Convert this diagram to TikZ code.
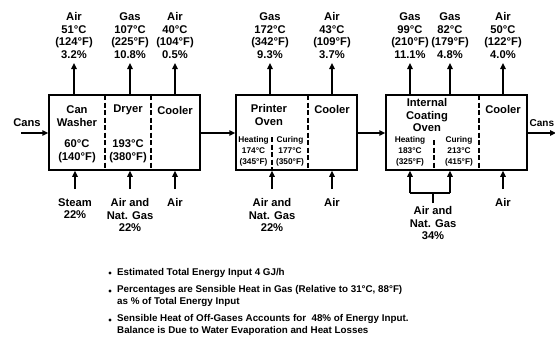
\documentclass[tikz,border=0pt]{standalone}
\usepackage{fontspec}
\setmainfont{Liberation Sans}
\usetikzlibrary{arrows.meta}
\begin{document}
\begin{tikzpicture}[x=1pt,y=-1pt,
  lbl/.style={font=\fontsize{11.2}{12.8}\selectfont\bfseries, align=center, inner sep=1pt},
  small/.style={font=\fontsize{8.3}{10.8}\selectfont\bfseries, align=center, inner sep=0pt},
  box/.style={draw, line width=1.5pt, minimum height=75pt, inner sep=0pt},
  arr/.style={line width=1.6pt, -{Triangle[length=6pt,width=5.5pt]}},
  div/.style={line width=1.2pt, dash pattern=on 5pt off 2.5pt},
  note/.style={font=\fontsize{9.8}{12}\selectfont\bfseries, align=left, anchor=west, inner sep=0pt},
  dot/.style={circle, fill, inner sep=0pt, minimum size=3.4pt}]
\useasboundingbox (0,0) rectangle (555,340);

% boxes
\node[box, minimum width=151pt] (b1) at (124.5,132.5) {};
\node[box, minimum width=121pt] (b2) at (296.5,132.5) {};
\node[box, minimum width=141pt] (b3) at (456.5,132.5) {};

% dividers
\draw[div] (105,95) -- (105,170);
\draw[div] (151,95) -- (151,170);
\draw[div] (308,95) -- (308,170);
\draw[div] (272,137) -- (272,170);
\draw[div] (479,95) -- (479,170);
\draw[div] (434,140) -- (434,170);

% inside texts
\node[lbl] (cw) at (77,116) {Can\\Washer};
\node[lbl] (cwt) at (77,151) {60°C\\(140°F)};
\node[lbl] (dr) at (128,110) {Dryer};
\node[lbl] (drt) at (128,151) {193°C\\(380°F)};
\node[lbl] (c1) at (175,110) {Cooler};
\node[lbl] (po) at (269,115) {Printer\\Oven};
\node[lbl] (c2) at (332,109) {Cooler};
\node[small] (h2) at (253.5,151.5) {Heating\\174°C\\(345°F)};
\node[small] (k2) at (290,151.5) {Curing\\177°C\\(350°F)};
\node[lbl] (ico) at (427,115) {Internal\\Coating\\Oven};
\node[lbl] (c3) at (503,109) {Cooler};
\node[small] (h3) at (410,151.5) {Heating\\183°C\\(325°F)};
\node[small] (k3) at (459,151.5) {Curing\\213°C\\(415°F)};

% top outputs
\node[lbl, anchor=south] (o1) at (74,60) {Air\\51°C\\(124°F)\\3.2\%};
\node[lbl, anchor=south] (o2) at (130,60) {Gas\\107°C\\(225°F)\\10.8\%};
\node[lbl, anchor=south] (o3) at (175,60) {Air\\40°C\\(104°F)\\0.5\%};
\node[lbl, anchor=south] (o4) at (270,60) {Gas\\172°C\\(342°F)\\9.3\%};
\node[lbl, anchor=south] (o5) at (332,60) {Air\\43°C\\(109°F)\\3.7\%};
\node[lbl, anchor=south] (o6) at (410,60) {Gas\\99°C\\(210°F)\\11.1\%};
\node[lbl, anchor=south] (o7) at (450,60) {Gas\\82°C\\(179°F)\\4.8\%};
\node[lbl, anchor=south] (o8) at (503,60) {Air\\50°C\\(122°F)\\4.0\%};
\foreach \o in {o1,o2,o3}{\draw[arr] (b1.north -| \o.south) -- ([yshift=-3pt]\o.south);}
\foreach \o in {o4,o5}{\draw[arr] (b2.north -| \o.south) -- ([yshift=-3pt]\o.south);}
\foreach \o in {o6,o7,o8}{\draw[arr] (b3.north -| \o.south) -- ([yshift=-3pt]\o.south);}

% bottom inputs
\node[lbl, anchor=north] (i1) at (75,197) {Steam\\22\%};
\node[lbl, anchor=north] (i2) at (130,197) {Air and\\Nat. Gas\\22\%};
\node[lbl, anchor=north] (i3) at (175,197) {Air};
\node[lbl, anchor=north] (i4) at (272,197) {Air and\\Nat. Gas\\22\%};
\node[lbl, anchor=north] (i5) at (332,197) {Air};
\node[lbl, anchor=north] (i6) at (503,197) {Air};
\node[lbl, anchor=north] (i7) at (433,205) {Air and\\Nat. Gas\\34\%};
\foreach \i in {i1,i2,i3}{\draw[arr] ([yshift=8pt]\i.north) -- (b1.south -| \i.north);}
\foreach \i in {i4,i5}{\draw[arr] ([yshift=8pt]\i.north) -- (b2.south -| \i.north);}
\draw[arr] ([yshift=8pt]i6.north) -- (b3.south -| i6.north);
\coordinate (bl) at (410,193);
\coordinate (br) at (450,193);
\draw[line width=1.6pt] ([yshift=2pt]i7.north) -- (i7.north |- bl);
\draw[line width=1.6pt] (bl) -- (br);
\draw[arr] (bl) -- (b3.south -| bl);
\draw[arr] (br) -- (b3.south -| br);

% cans flow
\node[lbl] (cin) at (27,123) {Cans};
\coordinate (cs) at (21,133);
\draw[arr] (cs) -- (cs -| b1.west);
\draw[arr] (b1.east |- 0,133) -- (b2.west |- 0,133);
\draw[arr] (b2.east |- 0,133) -- (b3.west |- 0,133);
\coordinate (ce) at (556,133);
\draw[arr] (b3.east |- ce) -- (ce);
\node[lbl, anchor=west, font=\fontsize{10}{12}\selectfont\bfseries, inner sep=0pt] (cout) at (529.5,123) {Cans};

% notes
\node[dot] (d1) at (110,273) {};
\node[dot] (d2) at (110,291) {};
\node[dot] (d3) at (110,320) {};
\node[note] (n1) at (117,273) {Estimated Total Energy Input 4 GJ/h};
\node[note, anchor=north west] (n2) at (117,285) {Percentages are Sensible Heat in Gas (Relative to 31°C, 88°F)\\as \% of Total Energy Input};
\node[note, anchor=north west] (n3) at (117,314) {Sensible Heat of Off-Gases Accounts for\ \ 48\% of Energy Input.\\Balance is Due to Water Evaporation and Heat Losses};
\end{tikzpicture}
\end{document}
